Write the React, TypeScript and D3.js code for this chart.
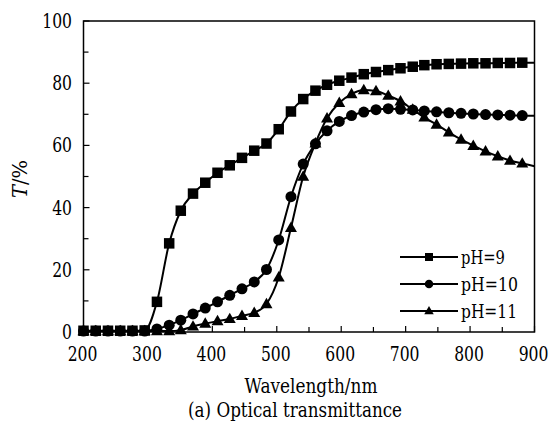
import React from 'react'
import * as d3 from 'd3'

// wavelength of each measured point (nm); the last one sits on the frame and has no marker
const wavelengths = [
  200, 219, 238, 257, 276, 295, 314, 333, 351, 370, 389, 408, 427, 446, 465, 484, 503, 522, 541,
  560, 578, 597, 616, 635, 654, 673, 692, 711, 729, 748, 767, 786, 805, 824, 843, 862, 881, 900
]

const ph9 = [
  0.4, 0.4, 0.4, 0.4, 0.4, 0.5, 9.7, 28.5, 39, 44.5, 48, 51.2, 53.6, 56, 58.3, 60.6, 65.2, 70.9, 74.9,
  77.6, 79.5, 80.8, 81.8, 82.9, 83.6, 84.2, 84.8, 85.3, 85.8, 86.1, 86.2, 86.3, 86.4, 86.4, 86.5, 86.5, 86.6, 86.6
]

const ph10 = [
  0.3, 0.3, 0.3, 0.3, 0.3, 0.3, 1.0, 2.2, 3.8, 5.8, 7.7, 9.7, 11.8, 13.9, 16.1, 20.1, 29.6, 43.5, 54,
  60.5, 64.7, 67.7, 69.6, 70.7, 71.5, 71.8, 71.6, 71.4, 71.1, 70.8, 70.5, 70.3, 70.1, 69.9, 69.8, 69.7, 69.6, 69.5
]

const ph11 = [
  0.3, 0.3, 0.3, 0.3, 0.3, 0.3, 0.3, 0.3, 0.6, 1.8, 2.7, 3.5, 4.2, 5.2, 6.2, 9.0, 17.6, 33.5, 50,
  60.7, 68.7, 73.7, 76.5, 77.8, 77.5, 76, 74.2, 71.5, 69, 66.7, 64.2, 61.9, 59.9, 58.1, 56.5, 55.1, 54.2, 53.3
]

const seriesNames = ['pH=9', 'pH=10', 'pH=11']
const xTicks = [200, 300, 400, 500, 600, 700, 800, 900]
const yTicks = [0, 20, 40, 60, 80, 100]

// no Times-like face is installed, so DejaVu Serif is squeezed to the reference's widths
const FONT = "'DejaVu Serif', 'Liberation Serif', 'Times New Roman', serif"
const TICK_SQUEEZE = 0.8

function Marker({ kind, x, y, s }: { kind: string; x: number; y: number; s: number }) {
  if (kind === 'square') {
    return <rect x={x - s / 2} y={y - s / 2} width={s} height={s} fill="#000" />
  }
  if (kind === 'circle') {
    return <circle cx={x} cy={y} r={s / 2} fill="#000" />
  }
  const h = s * 0.87
  return (
    <path
      d={`M${x},${y - h * 0.6}L${x + s / 2},${y + h * 0.4}L${x - s / 2},${y + h * 0.4}Z`}
      fill="#000"
    />
  )
}

export default function App() {
  const left = 83.5, right = 534.5, top = 21, bottom = 332

  const x = d3.scaleLinear().domain([200, 900]).range([left, right])
  const y = d3.scaleLinear().domain([0, 100]).range([bottom, top])

  const line = d3
    .line<number>()
    .x((_, i) => x(wavelengths[i]))
    .y(d => y(d))
    .curve(d3.curveMonotoneX)

  const series = [
    { name: seriesNames[0], values: ph9, kind: 'square', size: 10.5, w: 44 },
    { name: seriesNames[1], values: ph10, kind: 'circle', size: 11, w: 57 },
    { name: seriesNames[2], values: ph11, kind: 'triangle', size: 12, w: 56 }
  ]

  const xMinor = d3.range(250, 900, 100)
  const yMinor = d3.range(10, 100, 20)

  return (
    <svg
      width={551}
      height={425}
      style={{ position: 'absolute', left: 0, top: 0, background: '#fff', fontFamily: FONT }}
    >
      <rect x={0} y={0} width={551} height={425} fill="#fff" />

      {/* lines and markers */}
      {series.map(s => (
        <g key={s.name}>
          <path d={line(s.values) || ''} fill="none" stroke="#000" strokeWidth={2} />
          {s.values.slice(0, -1).map((v, i) => (
            <Marker key={i} kind={s.kind} x={x(wavelengths[i])} y={y(v)} s={s.size} />
          ))}
        </g>
      ))}

      {/* frame */}
      <rect
        x={left}
        y={top}
        width={right - left}
        height={bottom - top}
        fill="none"
        stroke="#000"
        strokeWidth={1.5}
      />

      {/* x ticks */}
      {xTicks.map(t => (
        <g key={t}>
          <line x1={x(t)} x2={x(t)} y1={bottom} y2={bottom - 6} stroke="#000" strokeWidth={1.2} />
          <text
            transform={`translate(${x(t) - 1},${bottom + 29}) scale(${TICK_SQUEEZE},1)`}
            fontSize={19.5}
            textAnchor="middle"
          >
            {t}
          </text>
        </g>
      ))}
      {xMinor.map(t => (
        <line key={t} x1={x(t)} x2={x(t)} y1={bottom} y2={bottom - 5} stroke="#000" strokeWidth={1.2} />
      ))}

      {/* y ticks */}
      {yTicks.map(t => (
        <g key={t}>
          <line x1={left} x2={left + 6} y1={y(t)} y2={y(t)} stroke="#000" strokeWidth={1.2} />
          <text
            transform={`translate(72,${y(t) + 7}) scale(${TICK_SQUEEZE},1)`}
            fontSize={19.5}
            textAnchor="end"
          >
            {t}
          </text>
        </g>
      ))}
      {yMinor.map(t => (
        <line key={t} x1={left} x2={left + 5} y1={y(t)} y2={y(t)} stroke="#000" strokeWidth={1.2} />
      ))}

      {/* axis titles */}
      <text x={311} y={393} fontSize={19.5} textAnchor="middle" textLength={133} lengthAdjust="spacingAndGlyphs">
        Wavelength/nm
      </text>
      <text x={295} y={417} fontSize={19.5} textAnchor="middle" textLength={214} lengthAdjust="spacingAndGlyphs">
        (a) Optical transmittance
      </text>
      <text
        transform="translate(27,179) rotate(-90)"
        fontSize={19.5}
        textAnchor="middle"
        textLength={38}
        lengthAdjust="spacingAndGlyphs"
      >
        <tspan fontStyle="italic">T</tspan>/%
      </text>

      {/* legend */}
      {series.map((s, i) => {
        const ly = 257 + i * 27
        return (
          <g key={s.name}>
            <line x1={400} x2={458} y1={ly} y2={ly} stroke="#000" strokeWidth={1.8} />
            <Marker kind={s.kind} x={429} y={ly} s={s.size - 2.5} />
            <text x={461} y={ly + 7} fontSize={19} textLength={s.w} lengthAdjust="spacingAndGlyphs">
              {s.name}
            </text>
          </g>
        )
      })}
    </svg>
  )
}
